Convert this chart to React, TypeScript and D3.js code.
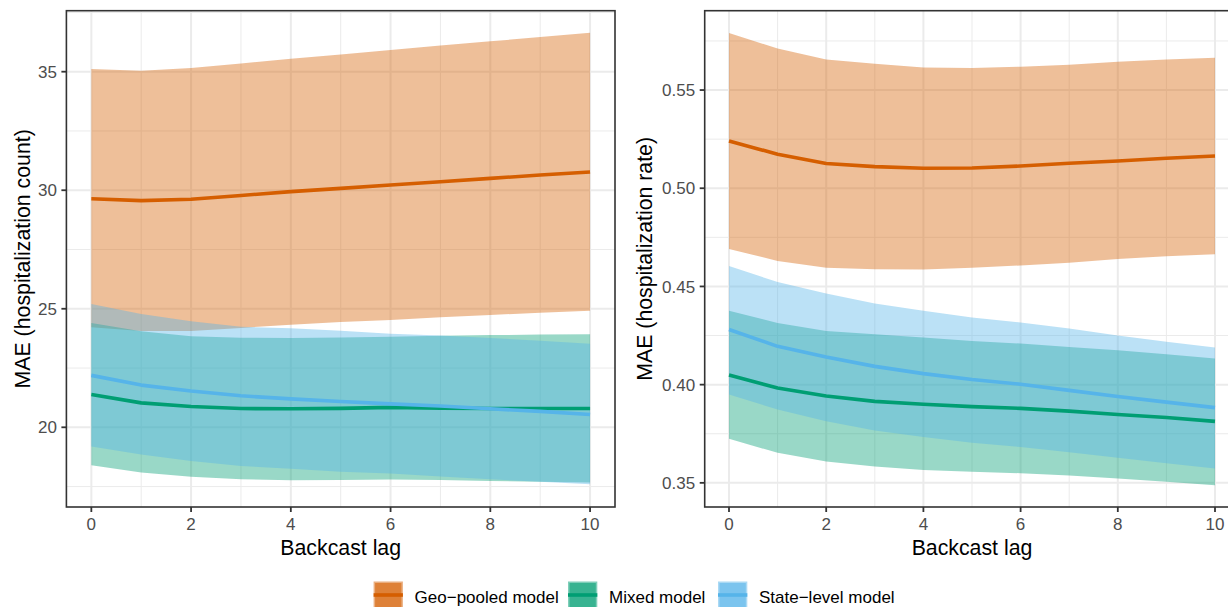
import React from "react";
import * as d3 from "d3";

// ---------- data ----------
const lags = [0, 1, 2, 3, 4, 5, 6, 7, 8, 9, 10];

// Left panel: MAE (hospitalization count)
const countGeoMean = [29.64, 29.56, 29.62, 29.78, 29.94, 30.08, 30.22, 30.36, 30.5, 30.64, 30.77];
const countGeoLower = [24.22, 24.06, 24.06, 24.19, 24.33, 24.44, 24.53, 24.64, 24.74, 24.83, 24.92];
const countGeoUpper = [35.11, 35.04, 35.16, 35.35, 35.55, 35.73, 35.92, 36.1, 36.28, 36.46, 36.64];
const countMixedMean = [21.38, 21.03, 20.88, 20.79, 20.78, 20.8, 20.84, 20.81, 20.79, 20.79, 20.79];
const countMixedLower = [18.4, 18.09, 17.91, 17.81, 17.77, 17.78, 17.8, 17.78, 17.74, 17.7, 17.67];
const countMixedUpper = [24.4, 24.05, 23.84, 23.78, 23.77, 23.79, 23.82, 23.86, 23.89, 23.91, 23.92];
const countStateMean = [22.19, 21.78, 21.53, 21.33, 21.2, 21.09, 20.99, 20.9, 20.78, 20.67, 20.54];
const countStateLower = [19.19, 18.85, 18.58, 18.37, 18.25, 18.13, 18.05, 17.92, 17.81, 17.7, 17.6];
const countStateUpper = [25.2, 24.78, 24.47, 24.24, 24.18, 24.07, 23.95, 23.87, 23.77, 23.65, 23.52];

// Right panel: MAE (hospitalization rate)
const rateGeoMean = [0.5241, 0.5173, 0.5126, 0.511, 0.5102, 0.5103, 0.5113, 0.5127, 0.5139, 0.5153, 0.5164];
const rateGeoLower = [0.4691, 0.463, 0.4595, 0.4588, 0.4586, 0.4595, 0.4607, 0.4621, 0.464, 0.4654, 0.4664];
const rateGeoUpper = [0.579, 0.5711, 0.5656, 0.5634, 0.5615, 0.5612, 0.5619, 0.5629, 0.5644, 0.5655, 0.5665];
const rateMixedMean = [0.4049, 0.3983, 0.3942, 0.3915, 0.39, 0.3888, 0.3879, 0.3865, 0.3848, 0.3833, 0.3813];
const rateMixedLower = [0.3724, 0.3653, 0.3609, 0.3583, 0.3566, 0.3556, 0.3549, 0.3537, 0.3522, 0.3505, 0.3488];
const rateMixedUpper = [0.4376, 0.4314, 0.4273, 0.4257, 0.424, 0.4222, 0.4209, 0.4192, 0.4175, 0.4155, 0.4133];
const rateStateMean = [0.4281, 0.4195, 0.4141, 0.4093, 0.4056, 0.4026, 0.4002, 0.3971, 0.394, 0.3911, 0.3883];
const rateStateLower = [0.395, 0.3873, 0.3814, 0.3767, 0.3733, 0.3704, 0.3682, 0.3656, 0.3628, 0.36, 0.3573];
const rateStateUpper = [0.4604, 0.4522, 0.4464, 0.4413, 0.4376, 0.4342, 0.4316, 0.4286, 0.425, 0.4218, 0.4189];

const seriesNames = ["Geo\u2212pooled model", "Mixed model", "State\u2212level model"];
const seriesColors = ["#D55E00", "#009E73", "#56B4E9"];

const xTicks = [0, 2, 4, 6, 8, 10];
const xMinor = [1, 3, 5, 7, 9];
const countTicks = [20, 25, 30, 35];
const countMinor = [17.5, 22.5, 27.5, 32.5, 37.5];
const rateTicks = [0.35, 0.4, 0.45, 0.5, 0.55];
const rateMinor = [0.375, 0.425, 0.475, 0.525, 0.575];

const xLabel = "Backcast lag";
const countTitle = "MAE (hospitalization count)";
const rateTitle = "MAE (hospitalization rate)";

// ---------- layout ----------
const W = 1228;
const H = 607;
const FONT = "'Liberation Sans', Arial, Helvetica, sans-serif";
const TOP = 10.7;
const BOTTOM = 507;
const SMALL = 17;
const LARGE = 21.3;

type Series = { mean: number[]; lower: number[]; upper: number[] };

function Panel(props: {
  x0: number;
  x1: number;
  yDomain: [number, number];
  yTicks: number[];
  yMinor: number[];
  fmt: (v: number) => string;
  series: Series[];
  title: string;
  titleX: number;
}) {
  const { x0, x1, yDomain, yTicks, yMinor, fmt, series, title, titleX } = props;
  const x = d3.scaleLinear().domain([-0.5, 10.5]).range([x0, x1]);
  const y = d3.scaleLinear().domain(yDomain).range([BOTTOM, TOP]);
  const area = (s: Series) =>
    d3
      .area<number>()
      .x((d) => x(d))
      .y0((_, i) => y(s.lower[i]))
      .y1((_, i) => y(s.upper[i]))(lags) || "";
  const line = (s: Series) =>
    d3
      .line<number>()
      .x((d) => x(d))
      .y((_, i) => y(s.mean[i]))(lags) || "";
  const clipId = `clip-${Math.round(x0)}`;
  return (
    <g>
      <defs>
        <clipPath id={clipId}>
          <rect x={x0} y={TOP} width={x1 - x0} height={BOTTOM - TOP} />
        </clipPath>
      </defs>
      <g clipPath={`url(#${clipId})`}>
        <rect x={x0} y={TOP} width={x1 - x0} height={BOTTOM - TOP} fill="#FFFFFF" />
        {yMinor.map((v) => (
          <line key={"ym" + v} x1={x0} x2={x1} y1={y(v)} y2={y(v)} stroke="#EBEBEB" strokeWidth={1} />
        ))}
        {xMinor.map((v) => (
          <line key={"xm" + v} x1={x(v)} x2={x(v)} y1={TOP} y2={BOTTOM} stroke="#EBEBEB" strokeWidth={1} />
        ))}
        {yTicks.map((v) => (
          <line key={"yM" + v} x1={x0} x2={x1} y1={y(v)} y2={y(v)} stroke="#EBEBEB" strokeWidth={2} />
        ))}
        {xTicks.map((v) => (
          <line key={"xM" + v} x1={x(v)} x2={x(v)} y1={TOP} y2={BOTTOM} stroke="#EBEBEB" strokeWidth={2} />
        ))}
        {series.map((s, i) => (
          <path key={"r" + i} d={area(s)} fill={seriesColors[i]} fillOpacity={0.4} stroke="none" />
        ))}
        {series.map((s, i) => (
          <path key={"l" + i} d={line(s)} fill="none" stroke={seriesColors[i]} strokeWidth={3.6} strokeLinejoin="round" />
        ))}
      </g>
      <rect x={x0} y={TOP} width={x1 - x0} height={BOTTOM - TOP} fill="none" stroke="#333333" strokeWidth={1.6} />
      {yTicks.map((v) => (
        <g key={"yt" + v}>
          <line x1={x0 - 5} x2={x0} y1={y(v)} y2={y(v)} stroke="#333333" strokeWidth={1.8} />
          <text x={x0 - 9.5} y={y(v)} dy="0.36em" textAnchor="end" fontSize={SMALL} fill="#4D4D4D" fontFamily={FONT}>
            {fmt(v)}
          </text>
        </g>
      ))}
      {xTicks.map((v) => (
        <g key={"xt" + v}>
          <line x1={x(v)} x2={x(v)} y1={BOTTOM} y2={BOTTOM + 5} stroke="#333333" strokeWidth={1.8} />
          <text x={x(v)} y={530} textAnchor="middle" fontSize={SMALL} fill="#4D4D4D" fontFamily={FONT}>
            {String(v)}
          </text>
        </g>
      ))}
      <text x={(x0 + x1) / 2} y={554.5} textAnchor="middle" fontSize={LARGE} fill="#000000" fontFamily={FONT}>
        {xLabel}
      </text>
      <text
        transform={`translate(${titleX},${(TOP + BOTTOM) / 2}) rotate(-90)`}
        textAnchor="middle"
        fontSize={LARGE}
        fill="#000000"
        fontFamily={FONT}
      >
        {title}
      </text>
    </g>
  );
}

export default function App() {
  const countSeries: Series[] = [
    { mean: countGeoMean, lower: countGeoLower, upper: countGeoUpper },
    { mean: countMixedMean, lower: countMixedLower, upper: countMixedUpper },
    { mean: countStateMean, lower: countStateLower, upper: countStateUpper },
  ];
  const rateSeries: Series[] = [
    { mean: rateGeoMean, lower: rateGeoLower, upper: rateGeoUpper },
    { mean: rateMixedMean, lower: rateMixedLower, upper: rateMixedUpper },
    { mean: rateStateMean, lower: rateStateLower, upper: rateStateUpper },
  ];
  const legendX = [373.6, 568, 718];
  const keyW = 29.3;
  const keyH = 27;
  const legendY = 595;
  return (
    <svg
      width={W}
      height={H}
      style={{ position: "absolute", left: 0, top: 0, background: "#FFFFFF" }}
      xmlns="http://www.w3.org/2000/svg"
    >
      <rect x={0} y={0} width={W} height={H} fill="#FFFFFF" />
      <Panel
        x0={66.4}
        x1={615}
        yDomain={[16.638, 37.573]}
        yTicks={countTicks}
        yMinor={countMinor}
        fmt={(v) => String(v)}
        series={countSeries}
        title={countTitle}
        titleX={29.5}
      />
      <Panel
        x0={704.7}
        x1={1239.3}
        yDomain={[0.3377, 0.5904]}
        yTicks={rateTicks}
        yMinor={rateMinor}
        fmt={d3.format(".2f")}
        series={rateSeries}
        title={rateTitle}
        titleX={652}
      />
      {seriesNames.map((name, i) => (
        <g key={"lg" + i}>
          <rect
            x={legendX[i]}
            y={legendY - keyH / 2}
            width={keyW}
            height={keyH}
            fill={seriesColors[i]}
            fillOpacity={0.5}
          />
          <rect
            x={legendX[i] + 1.5}
            y={legendY - keyH / 2 + 1.5}
            width={keyW - 3}
            height={keyH - 3}
            fill={seriesColors[i]}
            fillOpacity={0.56}
          />
          <line
            x1={legendX[i]}
            x2={legendX[i] + keyW}
            y1={legendY}
            y2={legendY}
            stroke={seriesColors[i]}
            strokeWidth={3.6}
          />
          <text x={legendX[i] + keyW + 11.7} y={602.5} fontSize={SMALL} fill="#000000" fontFamily={FONT}>
            {name}
          </text>
        </g>
      ))}
    </svg>
  );
}
